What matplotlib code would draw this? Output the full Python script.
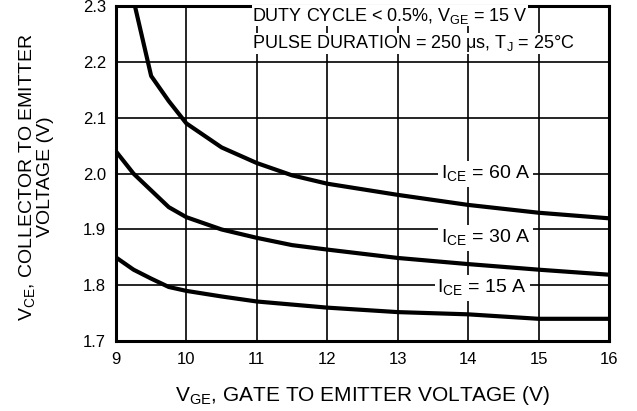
import matplotlib.pyplot as plt

plt.rcParams['font.family'] = ['Liberation Sans', 'DejaVu Sans']

# V_GE values (x) and V_CE values (y) for each collector current
vge_60 = [9.27, 9.5, 9.75, 10.0, 10.5, 11.0, 11.5, 12.0, 13.0, 14.0, 15.0, 16.0]
vce_60 = [2.30, 2.175, 2.13, 2.09, 2.047, 2.019, 1.997, 1.982, 1.962, 1.944, 1.930, 1.920]

vge_30 = [9.0, 9.25, 9.5, 9.75, 10.0, 10.5, 11.0, 11.5, 12.0, 13.0, 14.0, 15.0, 16.0]
vce_30 = [2.04, 2.00, 1.97, 1.94, 1.922, 1.90, 1.885, 1.872, 1.864, 1.849, 1.838, 1.828, 1.819]

vge_15 = [9.0, 9.25, 9.5, 9.75, 10.0, 10.5, 11.0, 12.0, 13.0, 14.0, 15.0, 16.0]
vce_15 = [1.85, 1.828, 1.812, 1.797, 1.790, 1.780, 1.771, 1.760, 1.752, 1.748, 1.740, 1.740]

labels = ['I$_{\\mathregular{CE}}$ = 60 A', 'I$_{\\mathregular{CE}}$ = 30 A', 'I$_{\\mathregular{CE}}$ = 15 A']
label_x = [14.25, 14.25, 14.2]
label_y = [2.0, 1.885, 1.795]

xticks = [9, 10, 11, 12, 13, 14, 15, 16]
yticks = [1.7, 1.8, 1.9, 2.0, 2.1, 2.2, 2.3]

fig = plt.figure(figsize=(6.37, 4.11), dpi=100)
ax = fig.add_axes([0.182, 0.170, 0.774, 0.815])

ax.plot(vge_60, vce_60, c='black', lw=3, solid_capstyle='butt', zorder=3)
ax.plot(vge_30, vce_30, c='black', lw=3, solid_capstyle='butt', zorder=3)
ax.plot(vge_15, vce_15, c='black', lw=3, solid_capstyle='butt', zorder=3)

for lx, ly, txt in zip(label_x, label_y, labels):
    ax.text(lx, ly, txt, fontsize=14, ha='center', va='center', zorder=4,
            bbox=dict(facecolor='white', edgecolor='none', pad=2))

ax.text(10.93, 2.283, 'DUTY CYCLE < 0.5%, V$_{\\mathregular{GE}}$ = 15 V', fontsize=13,
        ha='left', va='center', zorder=4,
        bbox=dict(facecolor='white', edgecolor='none', pad=0.3))
ax.text(10.93, 2.233, 'PULSE DURATION = 250 \u03bcs, T$_{\\mathregular{J}}$ = 25\u00b0C', fontsize=13,
        ha='left', va='center', zorder=4,
        bbox=dict(facecolor='white', edgecolor='none', pad=0.3))

ax.set_xlim(9, 16)
ax.set_ylim(1.7, 2.3)
ax.set_xticks(xticks)
ax.set_yticks(yticks)
ax.set_yticklabels([f'{v:.1f}' for v in yticks])
ax.grid(True, color='black', lw=1.2)
ax.tick_params(axis='x', length=0, labelsize=12, pad=8)
ax.tick_params(axis='y', length=0, labelsize=12, pad=7)
for s in ax.spines.values():
    s.set_linewidth(2.2)

ax.set_xlabel('V$_{\\mathregular{GE}}$, GATE TO EMITTER VOLTAGE (V)', fontsize=15, va='center')
ax.xaxis.set_label_coords(0.5, -0.163)

# two-line y label, each line centred on the same point
fig.text(0.044, 0.569, 'V$_{\\mathregular{CE}}$, COLLECTOR TO EMITTER', fontsize=14,
         rotation=90, ha='center', va='center')
fig.text(0.071, 0.569, 'VOLTAGE (V)', fontsize=14,
         rotation=90, ha='center', va='center')

fig.savefig('out.png', dpi=100)
